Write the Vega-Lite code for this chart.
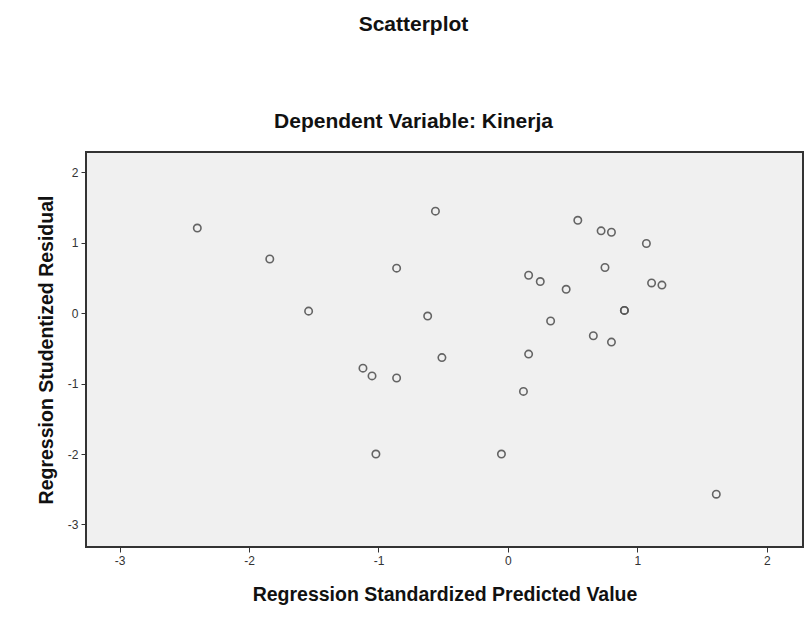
{
  "$schema": "https://vega.github.io/schema/vega-lite/v6.json",
  "autosize": "none",
  "width": 717,
  "height": 395,
  "padding": {"left": 86, "top": 152, "right": 3, "bottom": 70},
  "background": "white",
  "title": {
    "text": "Scatterplot",
    "subtitle": "Dependent Variable: Kinerja",
    "anchor": "middle",
    "frame": "group",
    "dx": -31,
    "offset": 20,
    "subtitlePadding": 76,
    "font": "Liberation Sans",
    "fontSize": 21,
    "fontWeight": "bold",
    "color": "#111",
    "subtitleFont": "Liberation Sans",
    "subtitleFontSize": 21,
    "subtitleFontWeight": "bold",
    "subtitleColor": "#111"
  },
  "config": {
    "view": {"fill": "#f0f0f0", "stroke": "#333", "strokeWidth": 2},
    "axis": {
      "grid": false,
      "domain": false,
      "tickColor": "#333",
      "tickSize": 5,
      "labelFont": "Liberation Sans",
      "labelFontSize": 12,
      "labelColor": "#333",
      "labelExpr": "replace(datum.label, '\u2212', '-')",
      "titleFont": "Liberation Sans",
      "titleFontSize": 19.5,
      "titleFontWeight": "bold",
      "titleColor": "#111"
    }
  },
  "data": {
    "values": [
      {"pred": -2.40, "resid": 1.21},
      {"pred": -1.84, "resid": 0.77},
      {"pred": -1.54, "resid": 0.03},
      {"pred": -0.86, "resid": 0.64},
      {"pred": -0.56, "resid": 1.45},
      {"pred": -0.62, "resid": -0.04},
      {"pred": -1.12, "resid": -0.78},
      {"pred": -1.05, "resid": -0.89},
      {"pred": -0.86, "resid": -0.92},
      {"pred": -0.51, "resid": -0.63},
      {"pred": -1.02, "resid": -2.00},
      {"pred": -0.05, "resid": -2.00},
      {"pred": 0.12, "resid": -1.11},
      {"pred": 0.16, "resid": -0.58},
      {"pred": 0.16, "resid": 0.54},
      {"pred": 0.25, "resid": 0.45},
      {"pred": 0.33, "resid": -0.11},
      {"pred": 0.45, "resid": 0.34},
      {"pred": 0.54, "resid": 1.32},
      {"pred": 0.72, "resid": 1.17},
      {"pred": 0.80, "resid": 1.15},
      {"pred": 0.75, "resid": 0.65},
      {"pred": 0.66, "resid": -0.32},
      {"pred": 0.80, "resid": -0.41},
      {"pred": 0.90, "resid": 0.04},
      {"pred": 0.90, "resid": 0.04},
      {"pred": 1.07, "resid": 0.99},
      {"pred": 1.11, "resid": 0.43},
      {"pred": 1.19, "resid": 0.40},
      {"pred": 1.61, "resid": -2.57}
    ]
  },
  "mark": {"type": "point", "shape": "circle", "filled": false, "stroke": "#555", "strokeWidth": 1.6, "size": 55, "opacity": 0.9},
  "encoding": {
    "x": {
      "field": "pred",
      "type": "quantitative",
      "scale": {"domain": [-3.26, 2.28], "nice": false, "zero": false},
      "axis": {"values": [-3, -2, -1, 0, 1, 2], "title": "Regression Standardized Predicted Value", "titlePadding": 19, "labelPadding": 3}
    },
    "y": {
      "field": "resid",
      "type": "quantitative",
      "scale": {"domain": [-3.32, 2.29], "nice": false, "zero": false},
      "axis": {"values": [-3, -2, -1, 0, 1, 2], "title": "Regression Studentized Residual", "titlePadding": 11, "labelPadding": 3}
    }
  }
}
